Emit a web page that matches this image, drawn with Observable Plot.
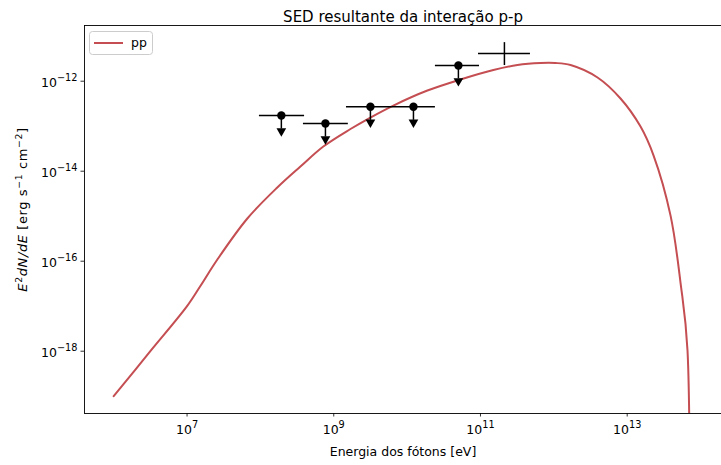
<!DOCTYPE html>
<html><head><meta charset="utf-8">
<script src="https://cdn.jsdelivr.net/npm/d3@7"></script>
<script src="https://cdn.jsdelivr.net/npm/@observablehq/plot@0.6"></script>
<style>
body{margin:0;background:#fff;}
#chart svg{display:block;}
</style></head><body><div id="chart"></div>
<script>
// ---- data ----
const curveE = [1.0e6, 3.16e6, 1.0e7, 1.52e7, 2.59e7, 6.64e7, 1.70e8, 3.51e8, 7.21e8, 1.69e9, 3.16e9, 6.50e9, 1.89e10, 5.33e10, 1.50e11, 3.19e11, 6.58e11, 1.05e12, 1.69e12, 3.94e12, 8.11e12, 1.52e13, 2.29e13, 3.90e13, 5.33e13, 6.64e13, 6.85e13];
const curveF = [1.0e-19, 1.0e-18, 1.0e-17, 2.81e-17, 1.09e-16, 8.9e-16, 4.35e-15, 1.27e-14, 3.54e-14, 8.67e-14, 1.56e-13, 2.88e-13, 6.2e-13, 1.09e-12, 1.77e-12, 2.29e-12, 2.54e-12, 2.54e-12, 2.29e-12, 1.21e-12, 4.13e-13, 9.8e-14, 2.23e-14, 1.03e-15, 3.36e-17, 1.04e-18, 1e-30];

const ulE   = [1.93e8, 7.7e8, 3.16e9, 1.22e10, 5.0e10];
const ulELo = [9.7e7, 3.86e8, 1.49e9, 6.3e9, 2.43e10];
const ulEHi = [4.0e8, 1.58e9, 6.3e9, 2.43e10, 9.7e10];
const ulF   = [1.73e-13, 1.15e-13, 2.7e-13, 2.7e-13, 2.23e-12];
const ulFLo = [8.65e-14, 5.75e-14, 1.35e-13, 1.35e-13, 1.12e-12];

const detE   = [2.12e11];
const detELo = [9.4e10];
const detEHi = [4.8e11];
const detF   = [4.13e-12];
const detFLo = [2.23e-12];
const detFHi = [7.2e-12];

const xTicks = [1e7, 1e9, 1e11, 1e13];
const yTicks = [1e-18, 1e-16, 1e-14, 1e-12];
const titleText = "SED resultante da interação p-p";
const xLabel = "Energia dos fótons [eV]";
const yLabel = "E2dN/dE [erg s-1 cm-2]";
const legendLabel = "pp";

// ---- tables ----
const curve = curveE.map((e, i) => ({e, f: curveF[i]}));
const ul = ulE.map((e, i) => ({e, lo: ulELo[i], hi: ulEHi[i], f: ulF[i], flo: ulFLo[i]}));
const det = detE.map((e, i) => ({e, lo: detELo[i], hi: detEHi[i], f: detF[i], flo: detFLo[i], fhi: detFHi[i]}));

const red = "#c44e52";
const font = "DejaVu Sans, sans-serif";

const plot = Plot.plot({
  width: 721, height: 465,
  marginLeft: 84, marginRight: 0, marginTop: 25, marginBottom: 52,
  style: {fontFamily: font, fontSize: "12.5px", background: "white", color: "black", overflow: "visible"},
  x: {type: "log", domain: [4.0e5, 1.93e14]},
  y: {type: "log", domain: [4.13e-20, 1.73e-11]},
  marks: [
    Plot.axisX({ticks: xTicks, tickSize: 3.5, tickPadding: 8, strokeWidth: 0.8, label: null,
      tickFormat: d => "10^" + Math.round(Math.log10(d))}),
    Plot.axisY({ticks: yTicks, tickSize: 3.5, tickPadding: 3.5, strokeWidth: 0.8, label: null,
      tickFormat: d => "10^" + Math.round(Math.log10(d))}),
    Plot.line(curve, {x: "e", y: "f", stroke: red, strokeWidth: 2, curve: "catmull-rom", clip: true}),
    Plot.ruleY(ul, {y: "f", x1: "lo", x2: "hi", stroke: "black", strokeWidth: 1.5}),
    Plot.ruleX(ul, {x: "e", y1: "f", y2: "flo", stroke: "black", strokeWidth: 1.5}),
    Plot.dot(ul, {x: "e", y: "flo", symbol: "triangle", rotate: 180, fill: "black", stroke: "none", r: 3.6, dy: 2}),
    Plot.dot(ul, {x: "e", y: "f", fill: "black", stroke: "none", r: 4.2}),
    Plot.ruleY(det, {y: "f", x1: "lo", x2: "hi", stroke: "black", strokeWidth: 1.5}),
    Plot.ruleX(det, {x: "e", y1: "flo", y2: "fhi", stroke: "black", strokeWidth: 1.5}),
    Plot.frame({stroke: "black", strokeWidth: 0.9}),
    Plot.text([titleText], {frameAnchor: "top", dy: -14, fontSize: 15, fill: "black"}),
    Plot.text([xLabel], {frameAnchor: "bottom", dy: 42, fontSize: 12.5, fill: "black"}),
    Plot.text([yLabel], {frameAnchor: "left", textAnchor: "middle", dx: -62, dy: -10, rotate: -90, fontSize: 13, fill: "black"})
  ]
});
document.getElementById("chart").appendChild(plot);

// ---- rich text (superscripts / italics) ----
const svg = d3.select(plot);
svg.selectAll("text").each(function() {
  const t = this.textContent;
  const m = /^10\^(-?\d+)$/.exec(t);
  if (m) {
    const sel = d3.select(this);
    const isY = m[1].startsWith("-");
    sel.text(null);
    sel.append("tspan").attr("dy", isY ? "2" : "0").text("10");
    sel.append("tspan").attr("font-size", "0.78em").attr("dy", "-6").text(m[1].replace("-", "\u2212"));
  } else if (t === yLabel) {
    const sel = d3.select(this).attr("letter-spacing", "0.6px");
    sel.text(null);
    sel.append("tspan").attr("font-style", "italic").text("E");
    sel.append("tspan").attr("font-size", "0.72em").attr("dy", "-5").text("2");
    sel.append("tspan").attr("font-style", "italic").attr("dy", "5").text("dN/dE");
    sel.append("tspan").text(" [erg s");
    sel.append("tspan").attr("font-size", "0.72em").attr("dy", "-5").text("\u22121");
    sel.append("tspan").attr("dy", "5").text(" cm");
    sel.append("tspan").attr("font-size", "0.72em").attr("dy", "-5").text("\u22122");
    sel.append("tspan").attr("dy", "5").text("]");
  }
});

// ---- legend ----
const lg = svg.append("g").attr("font-family", font).attr("font-size", "12.5px").attr("text-anchor", "start");
lg.append("rect").attr("x", 89.5).attr("y", 31.5).attr("width", 63).attr("height", 23).attr("rx", 3)
  .attr("fill", "white").attr("fill-opacity", 0.8).attr("stroke", "#cccccc").attr("stroke-width", 1);
lg.append("line").attr("x1", 94).attr("x2", 123).attr("y1", 43).attr("y2", 43)
  .attr("stroke", red).attr("stroke-width", 2);
lg.append("text").attr("x", 131).attr("y", 43).attr("dy", "0.35em").attr("fill", "black").text(legendLabel);
</script>
</body></html>
